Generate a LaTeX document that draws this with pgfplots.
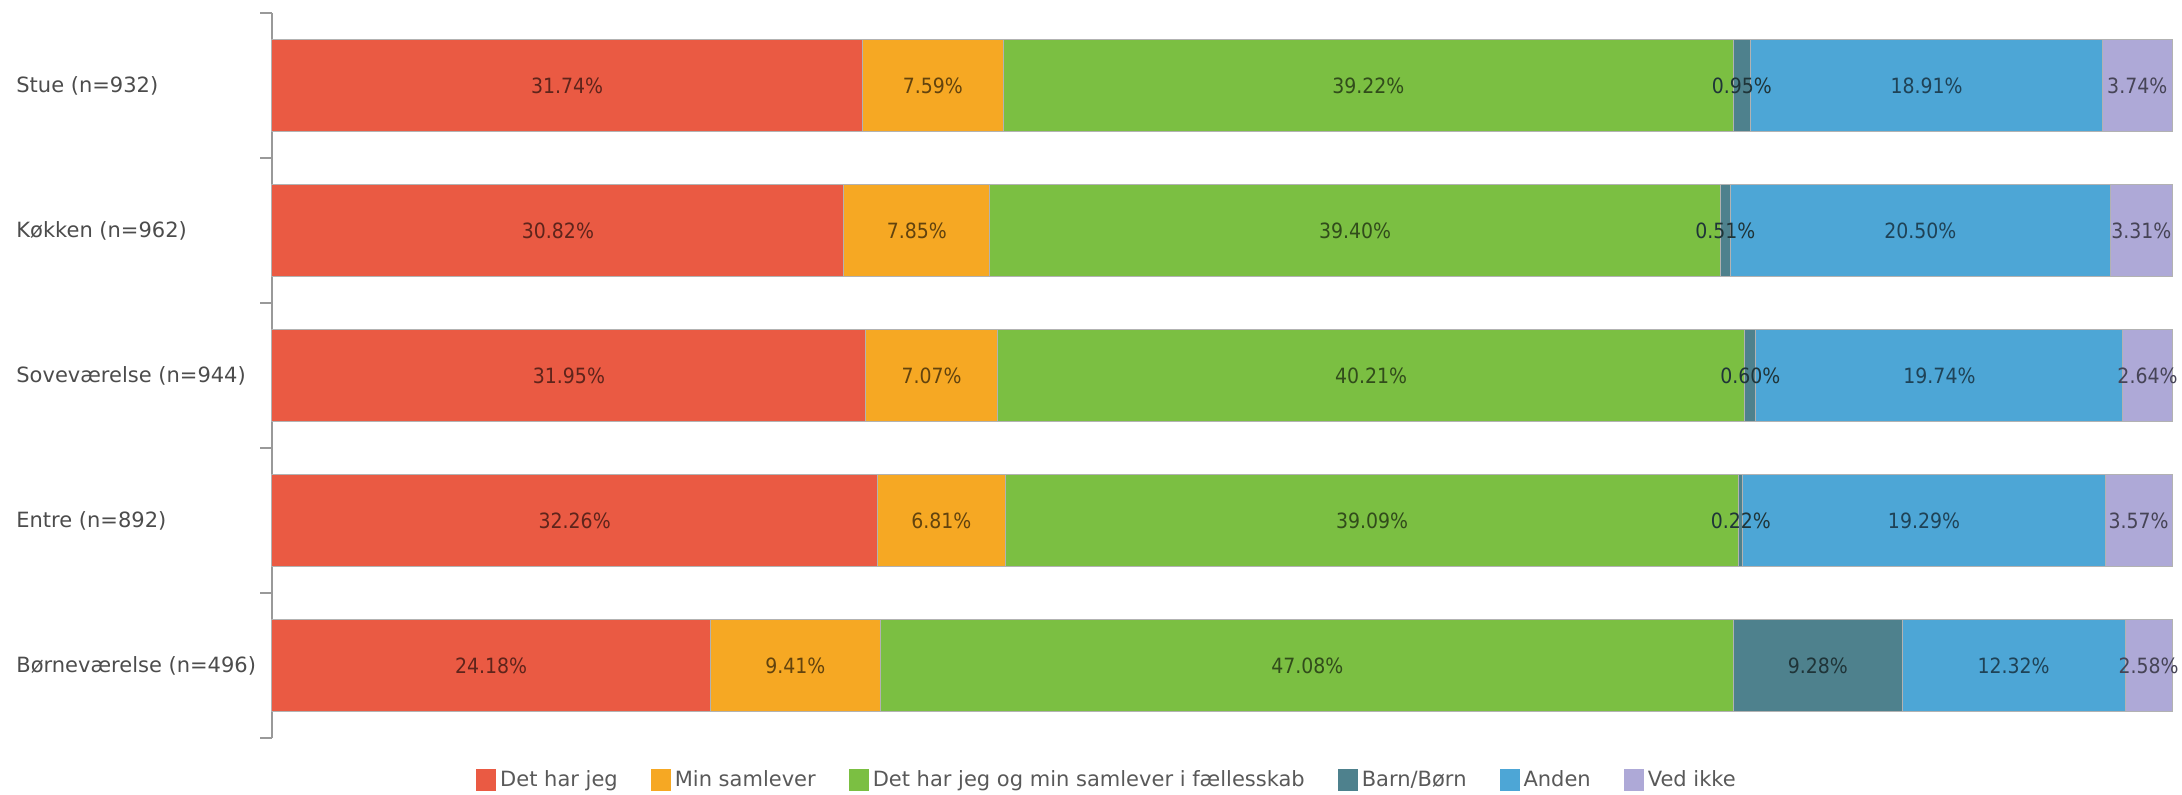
\documentclass[border=0pt]{standalone}
\usepackage{fontspec}
\setmainfont{DejaVu Sans}
\newfontfamily\condfont{DejaVu Sans Condensed}
\usepackage{pgfplots}
\usepackage{pgfplotstable}
\pgfplotsset{compat=1.18}

\definecolor{cRed}{HTML}{EA5A43}
\definecolor{cOrange}{HTML}{F6A823}
\definecolor{cGreen}{HTML}{7BBF42}
\definecolor{cTeal}{HTML}{4E818D}
\definecolor{cBlue}{HTML}{4DA6D6}
\definecolor{cLav}{HTML}{AEA9D7}

% share of respondents per room; rows are scaled to a full bar
\pgfplotstableread{
y a b c d e f
0 31.74 7.59 39.22 0.95 18.91 3.74
1 30.82 7.85 39.40 0.51 20.50 3.31
2 31.95 7.07 40.21 0.60 19.74 2.64
3 32.26 6.81 39.09 0.22 19.29 3.57
4 24.18 9.41 47.08 9.28 12.32 2.58
}\data
\pgfplotstablecreatecol[expr={\thisrow{a}+\thisrow{b}+\thisrow{c}+\thisrow{d}+\thisrow{e}+\thisrow{f}}]{tot}\data

\newcommand\seg[2]{%
  \addplot[fill=#2, draw=black!30, line width=0.5pt,
    nodes near coords style={text=#2!40!black}]
    table[y=y, x expr=\thisrow{#1}*100/\thisrow{tot}, meta=#1]{\data};}

\begin{document}
\begin{tikzpicture}[font=\fontsize{10.5}{12.6}\selectfont]
\begin{axis}[name=ax,
  scale only axis, width=950pt, height=362.5pt,
  xbar stacked, bar width=0.63,
  xmin=0, xmax=100, ymin=-0.5, ymax=4.5, y dir=reverse,
  axis x line=none, axis y line*=left,
  y axis line style={-, draw=black!40, line width=0.8pt},
  ytick={0,...,4},
  yticklabels={Stue (n=932), Køkken (n=962), Soveværelse (n=944), Entre (n=892), Børneværelse (n=496)},
  major tick length=0pt,
  minor ytick={-0.5,0.5,...,4.5}, minor tick length=6pt, tick align=outside,
  minor tick style={draw=black!40, line width=0.8pt},
  yticklabel style={anchor=west, xshift=-128pt, inner sep=0pt, text=black!70},
  point meta=explicit,
  nodes near coords={\pgfmathprintnumber[assume math mode=true,fixed,fixed zerofill,precision=2]{\pgfplotspointmeta}\%},
  every node near coord/.append style={anchor=center,
    font=\condfont\fontsize{10.5}{12}\selectfont},
  every axis plot post/.append style={
    legend image code/.code={\draw[##1, draw=none] (0pt,-5.5pt) rectangle (10pt,5.5pt);}},
  legend style={at={(0.44,-0.058)}, anchor=center, draw=none, fill=none,
    text=black!65, /tikz/every even column/.append style={column sep=14.5pt}},
  legend columns=-1, legend cell align=left,
  clip=false,
]
\seg{a}{cRed}
\seg{b}{cOrange}
\seg{c}{cGreen}
\seg{d}{cTeal}
\seg{e}{cBlue}
\seg{f}{cLav}
\legend{Det har jeg, Min samlever, Det har jeg og min samlever i fællesskab, Barn/Børn, Anden, Ved ikke}
\end{axis}
\pgfresetboundingbox
\path[use as bounding box] ([xshift=-136pt,yshift=-28.5pt]ax.south west) rectangle ([xshift=5pt,yshift=6.5pt]ax.north east);
\end{tikzpicture}
\end{document}
